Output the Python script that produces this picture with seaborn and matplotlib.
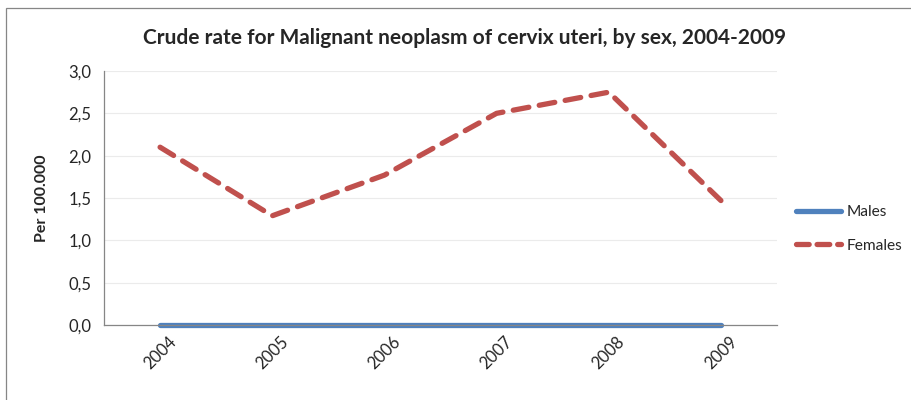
import matplotlib
matplotlib.use("Agg")
import matplotlib.pyplot as plt
import seaborn as sns
import pandas as pd
from matplotlib.patches import Rectangle
from matplotlib.lines import Line2D

years = ["2004", "2005", "2006", "2007", "2008", "2009"]
males = [0.0, 0.0, 0.0, 0.0, 0.0, 0.0]
females = [2.10, 1.29, 1.77, 2.50, 2.75, 1.47]
y_ticks = [0.0, 0.5, 1.0, 1.5, 2.0, 2.5, 3.0]
y_tick_labels = ["0,0", "0,5", "1,0", "1,5", "2,0", "2,5", "3,0"]
title = "Crude rate for Malignant neoplasm of cervix uteri, by sex, 2004-2009"
ylabel = "Per 100.000"

df = pd.DataFrame({"year": years * 2,
                   "value": males + females,
                   "sex": ["Males"] * len(years) + ["Females"] * len(years)})

sns.set_theme(style="white")
plt.rcParams["font.family"] = ["Lato", "DejaVu Sans"]

LW = 3.8
fig = plt.figure(figsize=(9.11, 4.0), dpi=100)
ax = fig.add_axes([104 / 911, 1 - 325 / 400, (777 - 104) / 911, (325 - 71) / 400])

sns.lineplot(data=df, x="year", y="value", hue="sex", style="sex",
             palette={"Males": "#4F81BD", "Females": "#C0504D"},
             dashes={"Males": "", "Females": (3, 2)},
             linewidth=LW, ax=ax, sort=False, legend=False)
for ln in ax.lines:
    ln.set_solid_capstyle("round")
    ln.set_dash_capstyle("round")
    ln.set_clip_on(False)

ax.set_xlim(-0.5, len(years) - 0.5)
ax.set_ylim(0, 3.0)
ax.set_yticks(y_ticks)
ax.set_yticklabels(y_tick_labels, fontsize=12)
ax.set_xticks(range(len(years)))
ax.set_xticklabels(years, rotation=45, fontsize=12)
ax.tick_params(axis="both", length=0, pad=6)
ax.tick_params(axis="y", pad=9)
ax.grid(axis="y", color="#EBEBEB", linewidth=0.8)
ax.set_axisbelow(True)
for s in ["top", "right"]:
    ax.spines[s].set_visible(False)
for s in ["left", "bottom"]:
    ax.spines[s].set_color("#868686")
    ax.spines[s].set_linewidth(0.9)
ax.set_xlabel("")
ax.set_ylabel(ylabel, fontsize=11.5, fontweight="bold", labelpad=14)

fig.text(465 / 911, 1 - 38 / 400, title, ha="center", va="center",
         fontsize=15, fontweight="bold")

handles = [Line2D([], [], color="#4F81BD", lw=LW, solid_capstyle="round"),
           Line2D([], [], color="#C0504D", lw=LW, ls=(0, (2.4, 1.5)), dash_capstyle="round")]
fig.legend(handles, ["Males", "Females"], loc="center left",
           bbox_to_anchor=(796 / 911, 1 - 229 / 400), frameon=False,
           fontsize=11.2, handlelength=2.9, handletextpad=0.35, labelspacing=1.25,
           borderpad=0, borderaxespad=0)

fig.patches.append(Rectangle((6 / 911, -0.1), 1.2, 1 - 8 / 400 + 0.1,
                             transform=fig.transFigure, fill=False,
                             edgecolor="#868686", linewidth=0.9))

fig.savefig("out.png", dpi=100)
